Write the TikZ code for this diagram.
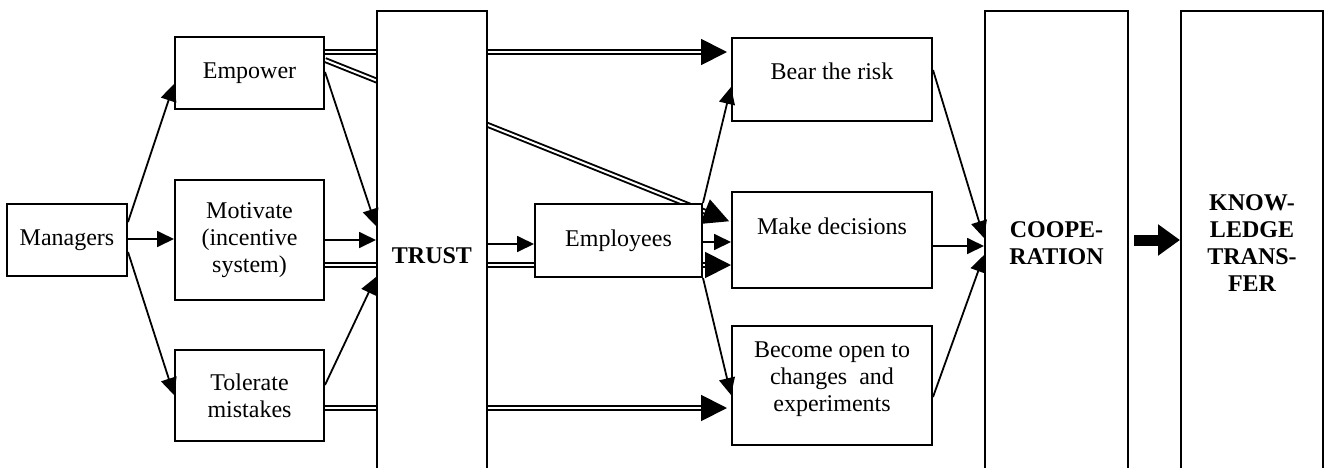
\documentclass[tikz,border=0pt]{standalone}
\usepackage{fontspec}
\setmainfont{Liberation Serif}
\usetikzlibrary{arrows.meta}
\pgfdeclarelayer{bg}
\pgfsetlayers{bg,main}
\begin{document}
\begin{tikzpicture}[x=0.5pt,y=-0.5pt,
  box/.style={draw, line width=1pt, fill=white, align=center, inner sep=1pt,
    font=\fontsize{12}{13.5}\selectfont},
  bbox/.style={box, font=\fontsize{12}{13.5}\selectfont\bfseries},
  arr/.style={line width=0.9pt, -{Triangle[length=8.5pt,width=8pt]}},
  dbl/.style={double, double distance=1pt, line width=0.95pt, -{Triangle[length=13pt,width=13pt]}},
  bigarr/.style={line width=5.5pt, -{Triangle[length=11pt,width=15pt]}},
]
\useasboundingbox (0,0) rectangle (1324,467);
% boxes
\node[box, minimum width=60pt, minimum height=36pt] (mgr) at (67,240) {Managers};
\node[box, minimum width=74.5pt, minimum height=36pt] (emp) at (249.5,73) {Empower};
\node[box, minimum width=74.5pt, minimum height=60pt] (mot) at (249.5,240) {Motivate\\(incentive\\system)};
\node[box, minimum width=74.5pt, minimum height=45.5pt] (tol) at (249.5,395.5) {Tolerate\\mistakes};
\node[bbox, minimum width=55pt, minimum height=244.5pt] (trust) at (432,255.5) {TRUST};
\node[box, minimum width=83.5pt, minimum height=36.5pt] (empl) at (618.5,240.5) {Employees};
\node[box, minimum width=100pt, minimum height=41.5pt, text height=8pt, text depth=8.5pt] (bear) at (832,79.5) {Bear the risk};
\node[box, minimum width=100pt, minimum height=48pt, text height=8pt, text depth=14pt] (dec) at (832,240) {Make decisions};
\node[box, minimum width=100pt, minimum height=59.5pt] (open) at (832,385.5) {};
\node[align=center, inner sep=0pt, font=\fontsize{12}{13.5}\selectfont] (opentext) at (832,379) {Become open to\\changes\ \ and\\experiments};
\node[bbox, minimum width=71.5pt, minimum height=232.5pt] (coop) at (1056.5,243.5) {COOPE-\\RATION};
\node[bbox, minimum width=71pt, minimum height=232.5pt] (kt) at (1252,243.5) {KNOW-\\LEDGE\\TRANS-\\FER};
% double connectors passing behind boxes
\begin{pgfonlayer}{bg}
\draw[dbl, shorten >=2pt] (emp.east |- 0,52) -- (bear.west |- 0,52);
\draw[dbl, shorten >=1pt] (emp.east |- 0,60) -- (dec.west |- 0,222);
\draw[dbl] (mot.east |- 0,265) -- (dec.west |- 0,265);
\draw[dbl, shorten >=2pt] (tol.east |- 0,408) -- (open.west |- 0,408);
\end{pgfonlayer}
% single connectors
\draw[arr] (mgr.east |- 0,222) -- (emp.west |- 0,84);
\draw[arr] (mgr.east |- 0,239) -- (mot.west |- 0,239);
\draw[arr] (mgr.east |- 0,252) -- (tol.west |- 0,395);
\draw[arr] (emp.east |- 0,72) -- (trust.west |- 0,226);
\draw[arr] (mot.east |- 0,240) -- (trust.west |- 0,240);
\draw[arr] (tol.east |- 0,385) -- (trust.west |- 0,277);
\draw[arr] (trust.east |- 0,244) -- (empl.west |- 0,244);
\draw[arr] (empl.north east) -- (bear.west |- 0,87);
\draw[arr] (empl.east |- 0,242) -- (dec.west |- 0,242);
\draw[arr] (empl.south east) -- (open.west |- 0,395);
\draw[arr] (bear.east |- 0,70) -- (coop.west |- 0,238);
\draw[arr] (dec.east |- 0,246) -- (coop.west |- 0,246);
\draw[arr] (open.east |- 0,397) -- (coop.west |- 0,255);
\draw[bigarr, shorten <=2.5pt] (coop.east |- 0,240) -- (kt.west |- 0,240);
\end{tikzpicture}
\end{document}
